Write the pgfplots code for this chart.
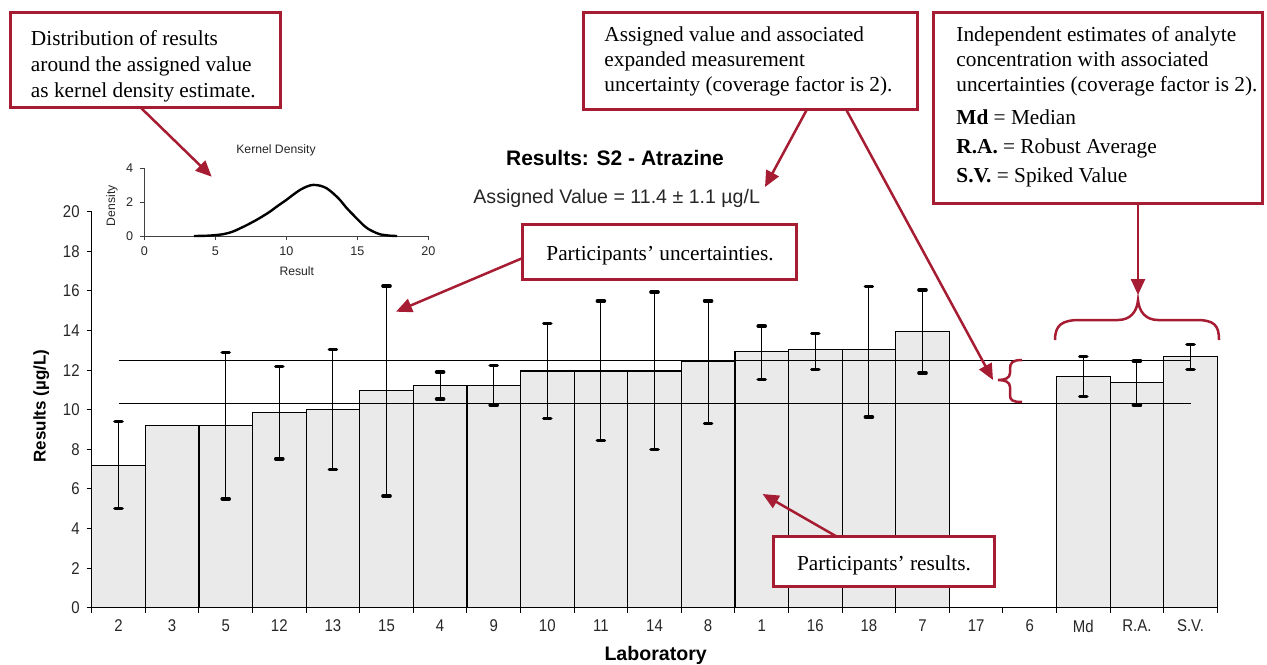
\documentclass[border=0pt]{standalone}
\usepackage{pgfplots}
\pgfplotsset{compat=1.18}
\usetikzlibrary{arrows.meta}
\usepackage{fontspec}
\setmainfont{Liberation Serif}
\newfontfamily\arial{Liberation Sans}
\newfontfamily\arialn[FakeStretch=0.88]{Liberation Sans}
\definecolor{boxred}{RGB}{166,28,50}
\definecolor{barfill}{RGB}{234,234,234}

\begin{document}
\begin{tikzpicture}[x=0.5pt,y=-0.5pt]
\useasboundingbox (0,0) rectangle (1267,664);

% ---------------- main results chart ----------------
% ticks sit on the category boundaries; labels are shifted half a category
\begin{axis}[
  at={(45.85pt,-303.85pt)}, anchor=south west,
  scale only axis, width=562.8pt, height=198pt,
  xmin=-0.5, xmax=20.5, ymin=0, ymax=20,
  axis x line*=bottom, axis y line*=left,
  axis line style={black, line width=0.5pt},
  ytick={0,2,...,20},
  xtick={-0.5,0.5,...,20.5},
  xticklabels={2,3,5,12,13,15,4,9,10,11,14,8,1,16,18,7,17,6,Md,R.A.,S.V.,{}},
  xticklabel style={xshift=13.4pt},
  tick align=outside,
  major tick length=2.5pt,
  tick style={black, line width=0.5pt},
  ticklabel style={font=\arialn\fontsize{8.5}{10}\selectfont, text=black!85},
  /pgf/number format/assume math mode=true,
  clip=false,
]
% participants' results and independent estimates
\addplot[ybar, bar width=1, bar shift=0, fill=barfill, draw=black, line width=0.6pt]
  coordinates {
  (0,7.2) (1,9.2) (2,9.2) (3,9.85) (4,10.0) (5,10.95) (6,11.22) (7,11.23)
  (8,11.95) (9,11.96) (10,11.96) (11,12.45) (12,12.95) (13,13.03) (14,13.03)
  (15,13.97) (18,11.66) (19,11.36) (20,12.7)};
% assigned value +/- expanded uncertainty
\addplot[black, line width=0.5pt, mark=none] coordinates {(0,12.5) (20,12.5)};
\addplot[black, line width=0.5pt, mark=none] coordinates {(0,10.3) (20,10.3)};
% uncertainties (whiskers only, no point marks)
\addplot[draw=none, mark=none,
  error bars/.cd, y dir=both, y explicit,
  error bar style={draw=black, line width=0.5pt},
  error mark=|,
  error mark options={draw=black, line width=1.7pt, mark size=1.8pt, line cap=round}]
  coordinates {
  (0,7.2) +- (0,2.2)
  (2,9.2) +- (0,3.7)
  (3,9.85) +- (0,2.33)
  (4,10.0) +- (0,3.03)
  (5,10.95) +- (0,5.3)
  (6,11.22) +- (0,0.68)
  (7,11.23) +- (0,1.0)
  (8,11.95) +- (0,2.4)
  (9,11.96) +- (0,3.53)
  (10,11.96) +- (0,3.98)
  (11,12.4) +- (0,3.1)
  (12,12.88) +- (0,1.34)
  (13,12.94) +- (0,0.9)
  (14,12.93) +- (0,3.3)
  (15,13.95) +- (0,2.1)
  (18,11.67) +- (0,1.01)
  (19,11.35) +- (0,1.12)
  (20,12.66) +- (0,0.64)};
\end{axis}

% ---------------- kernel density inset ----------------
\begin{axis}[
  at={(72.15pt,-118pt)}, anchor=south west,
  scale only axis, width=142pt, height=33.85pt,
  xmin=0, xmax=20, ymin=0, ymax=4,
  axis x line*=bottom, axis y line*=left,
  axis line style={black!75, line width=0.4pt},
  xtick={0,5,...,20}, ytick={0,2,4},
  tick align=outside, major tick length=2pt,
  tick style={black!75, line width=0.4pt},
  ticklabel style={font=\arial\fontsize{6.3}{7}\selectfont, text=black!85},
  /pgf/number format/assume math mode=true,
  clip=false,
]
\addplot[black, line width=1.2pt, smooth, mark=none] coordinates {
  (3.5,0) (4.5,0.02) (5.5,0.1) (6.2,0.25) (6.74,0.45) (7.3,0.68) (7.9,0.95)
  (8.4,1.2) (8.85,1.44) (9.4,1.78) (10.0,2.13) (10.5,2.45) (11.0,2.74)
  (11.5,2.94) (11.9,3.02) (12.4,2.97) (12.84,2.82) (13.3,2.52) (13.78,2.13)
  (14.2,1.7) (14.72,1.24) (15.1,0.92) (15.42,0.65) (15.8,0.4) (16.13,0.26)
  (16.6,0.1) (17.3,0.02) (17.8,0)};
\end{axis}

% ---------------- titles and axis labels ----------------
\tikzset{txt/.style={inner sep=0pt}}
\node[txt, font=\arial\bfseries\fontsize{10.5}{12}\selectfont, anchor=base] at (615,165) {Results: S2 - Atrazine};
\node[txt, font=\arial\fontsize{9.8}{11}\selectfont, text=black!85, anchor=base] at (616.7,203.3) {Assigned Value = 11.4 ± 1.1 µg/L};
\node[txt, font=\arial\bfseries\fontsize{9.8}{11}\selectfont, anchor=base] at (655.7,660) {Laboratory};
\node[txt, font=\arial\bfseries\fontsize{8.5}{10}\selectfont, anchor=base, rotate=90] at (45.5,406) {Results (µg/L)};
\node[txt, font=\arial\fontsize{6.1}{7}\selectfont, text=black!85, anchor=base] at (276,153) {Kernel Density};
\node[txt, font=\arial\fontsize{6.1}{7}\selectfont, text=black!85, anchor=base] at (296.8,275.7) {Result};
\node[txt, font=\arial\fontsize{6.1}{7}\selectfont, text=black!85, anchor=base, rotate=90] at (115,205.8) {Density};

% ---------------- callouts ----------------
\tikzset{callout/.style={boxred, line width=1.5pt, fill=white},
         pointer/.style={boxred, line width=1.25pt, -{Triangle[length=8pt,width=7pt]}},
         brace/.style={boxred, line width=1.25pt}}
\newcommand\boxfont{\fontsize{10.65}{12}\selectfont}

\draw[pointer] (140.8,107.7) -- (211.7,176.7);
\draw[pointer] (522.7,258) -- (396,311.7);
\draw[pointer] (807,109.3) -- (765,187);
\draw[pointer] (846,109.3) -- (993,380);
\draw[pointer] (1138,203.3) -- (1138,295);
\draw[pointer] (835.7,536) -- (762.6,494);

\draw[callout] (10.2,12.7) rectangle (280.6,107.7);
\node[txt, anchor=base west, font=\boxfont] at (30.6,45.7) {Distribution of results};
\node[txt, anchor=base west, font=\boxfont] at (30.6,71.7) {around the assigned value};
\node[txt, anchor=base west, font=\boxfont] at (30.6,97.3) {as kernel density estimate.};

\draw[callout] (583.4,12.7) rectangle (917,109.3);
\node[txt, anchor=base west, font=\boxfont] at (604,41.5) {Assigned value and associated};
\node[txt, anchor=base west, font=\boxfont] at (604,66.5) {expanded measurement};
\node[txt, anchor=base west, font=\boxfont] at (604,91) {uncertainty (coverage factor is 2).};

\draw[callout] (933.5,12.7) rectangle (1262,203.3);
\node[txt, anchor=base west, font=\boxfont] at (956,41) {Independent estimates of analyte};
\node[txt, anchor=base west, font=\boxfont] at (956,66) {concentration with associated};
\node[txt, anchor=base west, font=\boxfont] at (956,91) {uncertainties (coverage factor is 2).};
\node[txt, anchor=base west, font=\boxfont] at (956,124) {\textbf{Md} = Median};
\node[txt, anchor=base west, font=\boxfont] at (956,153.3) {\textbf{R.A.} = Robust Average};
\node[txt, anchor=base west, font=\boxfont] at (956,182.7) {\textbf{S.V.} = Spiked Value};

\draw[callout] (522.7,224) rectangle (796.7,279);
\node[txt, anchor=base, font=\boxfont] at (660,260) {Participants’ uncertainties.};

\draw[callout] (773,536) rectangle (994.5,586.7);
\node[txt, anchor=base, font=\boxfont] at (884,570) {Participants’ results.};

% braces
\draw[brace] (1022,360) .. controls (1012,360) and (1010,363) .. (1010,369) -- (1010,373)
  .. controls (1010,378) and (1005,380) .. (998,380)
  .. controls (1005,380) and (1010,382) .. (1010,387) -- (1010,395)
  .. controls (1010,400) and (1012,402) .. (1022,402);
\draw[brace] (1055,340) .. controls (1055,325) and (1062,320) .. (1080,320) -- (1118,320)
  .. controls (1130,320) and (1137,312) .. (1138,300)
  .. controls (1139,312) and (1146,320) .. (1158,320) -- (1196,320)
  .. controls (1214,320) and (1219,325) .. (1219,340);
\end{tikzpicture}
\end{document}
